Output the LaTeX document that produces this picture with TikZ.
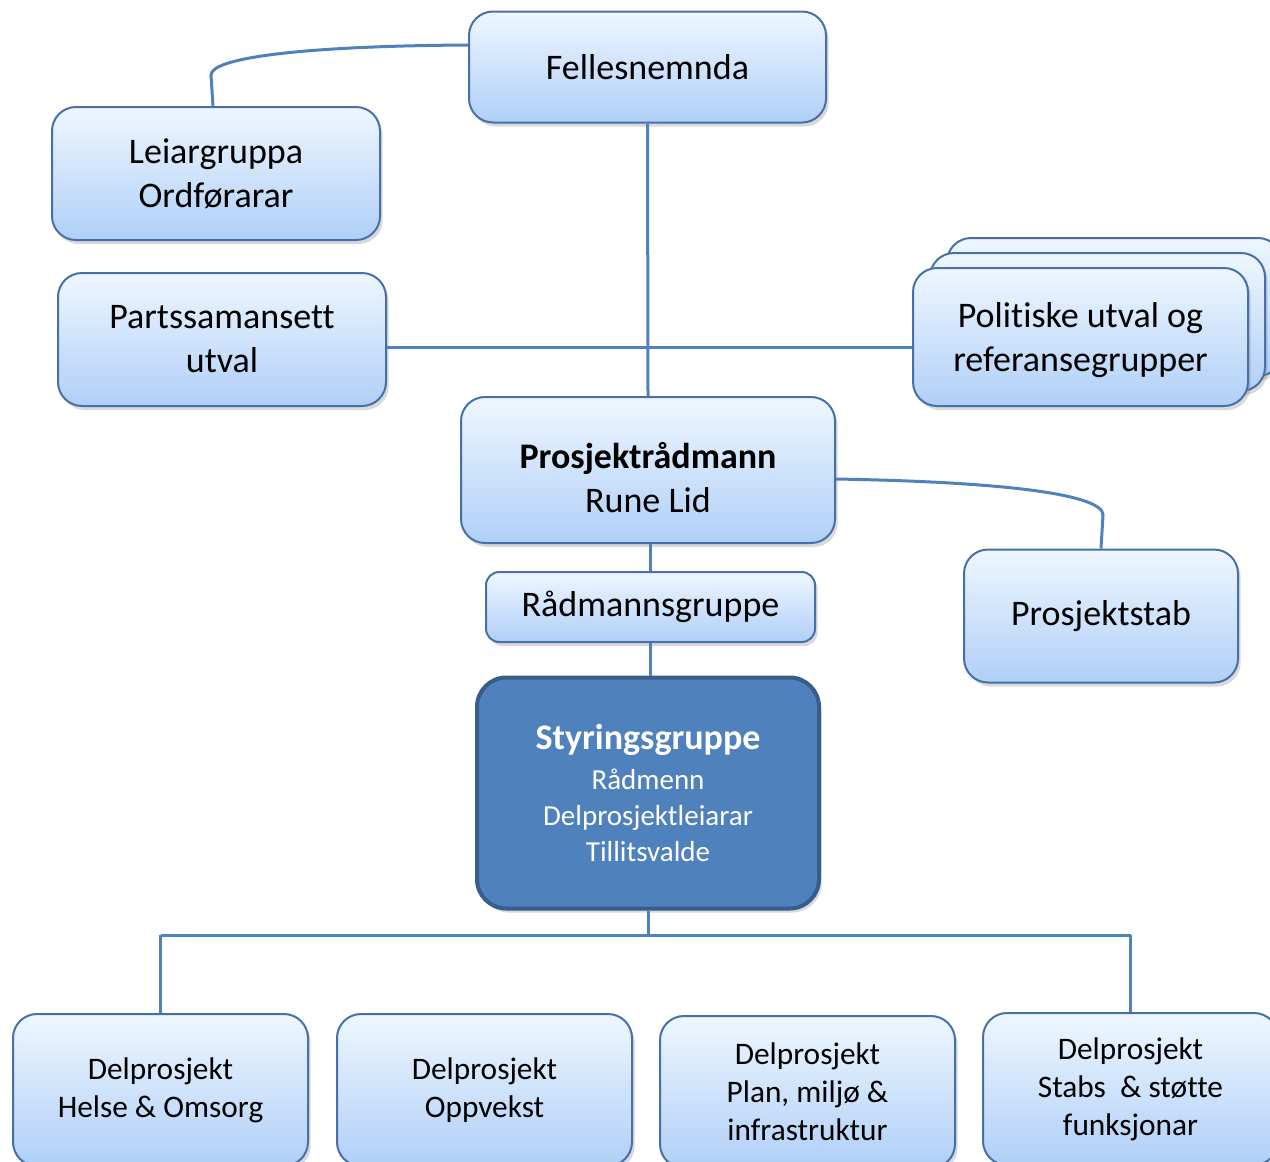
\documentclass[tikz,border=0pt]{standalone}
\usepackage{fontspec}
\setmainfont{Carlito}[Ligatures=NoCommon]
\usetikzlibrary{shadows}
\definecolor{lineblue}{RGB}{79,129,189}
\definecolor{edgeblue}{RGB}{72,112,168}
\definecolor{topfill}{RGB}{238,247,255}
\definecolor{botfill}{RGB}{176,207,247}
\definecolor{darkfill}{RGB}{79,129,189}
\definecolor{darkedge}{RGB}{56,93,138}
\tikzset{
  lightbox/.style={draw=edgeblue, line width=1.5pt, rounded corners=18pt,
    top color=topfill, bottom color=botfill, inner sep=0pt, align=center,
    drop shadow={opacity=0.3, shadow xshift=2pt, shadow yshift=-3pt},
    font=\fontsize{27}{33}\selectfont},
  smallbox/.style={lightbox, font=\fontsize{23.5}{28.5}\selectfont},
  darkbox/.style={draw=darkedge, line width=3pt, rounded corners=22pt,
    fill=darkfill, text=white, inner sep=0pt, align=center,
    drop shadow={opacity=0.3, shadow xshift=2pt, shadow yshift=-3pt},
    font=\fontsize{21.75}{27}\selectfont},
  conn/.style={draw=lineblue, line width=2.25pt}
}
\begin{document}
\begin{tikzpicture}[x=0.75pt,y=-0.75pt]
\useasboundingbox (0,0) rectangle (1270,1161);
\clip (0,0) rectangle (1270,1161);

% nodes
\node[lightbox, minimum width=267.75pt, minimum height=83.25pt] (fell) at (647.5,67) {Fellesnemnda};
\node[lightbox, minimum width=246pt, minimum height=99.75pt] (leiar) at (216,173.5) {Leiargruppa\\Ordførarar};
\node[lightbox, minimum width=246pt, minimum height=99.75pt] (parts) at (222,339.5) {Partssamansett\\utval};
\node[lightbox, minimum width=251.25pt, minimum height=103.5pt] (pol3) at (1114.5,307) {};
\node[lightbox, minimum width=251.25pt, minimum height=103.5pt] (pol2) at (1097.5,322) {};
\node[lightbox, minimum width=251.25pt, minimum height=103.5pt,
  label={[align=center, font=\fontsize{27}{33}\selectfont, yshift=-2pt]center:Politiske utval og\\referansegrupper}] (pol) at (1080.5,337) {};
\node[lightbox, minimum width=280.5pt, minimum height=109.5pt,
  label={[align=center, font=\fontsize{27}{33}\selectfont, yshift=-6pt]center:\textbf{Prosjektrådmann}\\Rune Lid}] (prosj) at (648,470) {};
\node[lightbox, minimum width=246.75pt, minimum height=52.5pt, rounded corners=10pt] (rg) at (650.5,607) {Rådmannsgruppe};
\node[lightbox, minimum width=205.5pt, minimum height=99.75pt] (stab) at (1101,616) {Prosjektstab};
\node[darkbox, minimum width=256.5pt, minimum height=173.25pt] (styr) at (648,793)
  {{\fontsize{27}{30}\selectfont\bfseries Styringsgruppe}\\[3pt]
   Rådmenn\\Delprosjektleiarar\\Tillitsvalde};
\node[smallbox, minimum width=221.25pt, minimum height=114pt] (d1) at (160.5,1090) {Delprosjekt\\Helse \& Omsorg};
\node[smallbox, minimum width=221.25pt, minimum height=114pt] (d2) at (484.5,1090) {Delprosjekt\\Oppvekst};
\node[smallbox, minimum width=221.25pt, minimum height=114pt] (d3) at (807.5,1092) {Delprosjekt\\Plan, miljø \&\\infrastruktur};
\node[smallbox, minimum width=221.25pt, minimum height=114pt] (d4) at (1130.5,1089) {Delprosjekt\\Stabs~ \& støtte\\funksjonar};

% connectors
\draw[conn] (fell.south) -- (prosj.north);
\draw[conn] (parts.east |- 0,347) -- (pol.west |- 0,347);
\draw[conn] (fell.west |- 0,45) .. controls (300,46) and (211,58) .. (211,75) -- (leiar.north -| 213,0);
\draw[conn] (prosj.east |- 0,479) .. controls (1010,482) and (1103,495) .. (1103,515) -- (stab.north);
\draw[conn] (rg.north |- prosj.south) -- (rg.north);
\draw[conn] (rg.south) -- (rg.south |- styr.north);
\coordinate (bus) at (648,935);
\draw[conn] (styr.south) -- (bus);
\draw[conn] (d1.north |- bus) -- (d4.north |- bus);
\draw[conn] (d1.north |- bus) -- (d1.north);
\draw[conn] (d2.north -| 495,0 |- bus) -- (d2.north -| 495,0);
\draw[conn] (d3.north -| 794,0 |- bus) -- (d3.north -| 794,0);
\draw[conn] (d4.north |- bus) -- (d4.north);
\end{tikzpicture}
\end{document}
